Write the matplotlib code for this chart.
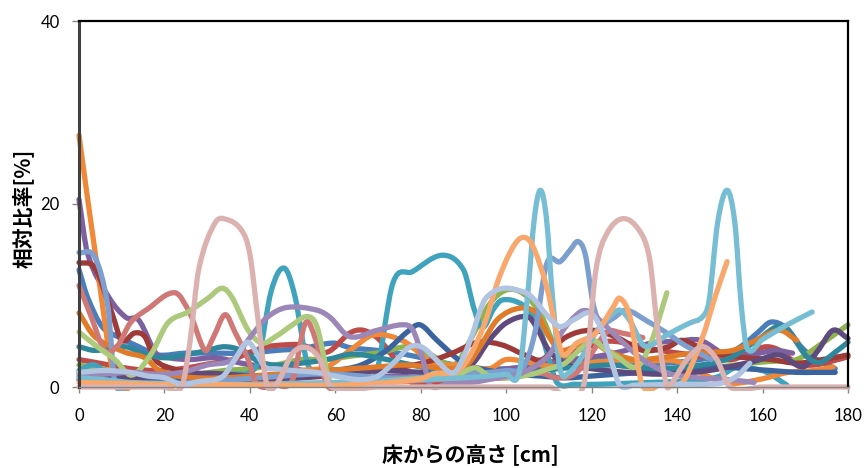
import numpy as np
import matplotlib
matplotlib.use("Agg")
import matplotlib.pyplot as plt
from matplotlib.path import Path
from matplotlib.patches import PathPatch, Rectangle

# height profiles: each series has its own sample heights (cm) and ratios (%)
blue_x = [0, 2, 5.4, 9.1, 14, 18.5, 24.8, 32.5, 39.6, 46.3, 52, 59.5, 63.4, 69.8, 76, 82, 88, 94, 100, 106,
          112, 118, 124, 130, 136, 142, 148, 152, 156, 159, 162, 165.7, 169, 172, 177]
blue_y = [12.8, 9.8, 6.6, 5.5, 4.4, 3.5, 3.7, 3.7, 3.7, 4.0, 4.2, 4.8, 4.3, 4.0, 3.6, 3.0, 2.4, 2.0, 2.0, 2.2,
          2.6, 3.0, 3.0, 2.8, 2.6, 2.8, 3.2, 3.6, 4.8, 6.0, 7.1, 6.4, 4.4, 3.2, 2.0]

red_x = [0, 6, 12, 18, 24, 30, 36, 40, 44, 48, 52, 58, 63.4, 66.5, 70, 74, 77.5, 82, 88, 94, 100, 106,
         112, 118, 124, 130, 136, 142, 148, 153, 158, 161, 164, 168, 172, 176, 180]
red_y = [3.0, 2.5, 2.0, 1.8, 2.0, 2.5, 3.0, 3.8, 4.4, 4.6, 4.6, 3.8, 5.9, 6.2, 5.3, 3.0, 0.6, 0.4, 0.5, 1.0, 1.4, 2.0,
         3.0, 4.2, 5.0, 4.6, 4.0, 3.6, 3.2, 3.0, 4.0, 4.4, 4.0, 2.6, 2.4, 2.8, 3.3]

green_x = [0, 5, 10, 16, 22, 28, 34, 40, 46, 52, 58, 64, 71, 76.8, 82, 88, 92, 96, 100, 104, 108, 112, 116,
           120, 126, 132, 138, 144, 150, 157, 162, 168, 172.8, 180]
green_y = [2.4, 2.0, 1.6, 1.2, 1.0, 1.4, 1.8, 2.0, 2.4, 3.0, 3.0, 3.4, 3.8, 4.4, 3.6, 2.5, 5.5, 9.0, 10.6, 10.2, 8.0, 4.0, 3.2,
           3.0, 2.4, 2.0, 1.8, 2.0, 2.2, 2.6, 2.8, 3.0, 4.4, 6.8]

purple_x = [0, 2, 7, 11, 14, 18, 21, 26, 32, 38, 44, 50, 56, 62, 68, 74, 80, 86, 92, 98, 104, 110, 116,
            122, 128, 134, 140, 145.4, 152, 158, 163, 167]
purple_y = [20.5, 14.6, 9.8, 7.6, 7.3, 3.7, 3.2, 3.0, 3.2, 2.6, 2.2, 2.0, 1.5, 1.2, 1.0, 1.2, 1.0, 0.8, 1.2, 1.8, 2.2, 2.5, 3.0,
            3.4, 4.0, 4.8, 5.0, 5.1, 3.4, 3.6, 4.0, 3.7]

aqua_x = [0, 3.7, 9, 14, 20, 26, 32, 36, 40, 42, 45, 48, 50.5, 53.6, 58, 62, 66, 69.5, 73.5, 78, 85, 90,
          92.5, 94.5, 97, 99, 103, 106, 108, 110, 112, 116, 122, 128, 134, 140, 146, 150, 154, 158, 161,
          165.7]
aqua_y = [1.8, 2.4, 0.4, 0.3, 0.5, 0.8, 1.0, 1.4, 1.6, 3.0, 10.5, 13.0, 10.0, 2.4, 2.0, 1.8, 1.6, 1.4, 11.4, 12.6, 14.4, 12.8,
          8.5, 6.5, 8.5, 9.5, 9.2, 8.0, 6.2, 3.0, 0.4, 0.3, 0.3, 0.4, 0.5, 0.6, 0.8, 1.2, 2.2, 2.0, 1.6,
          0.2]

orange_x = [0, 4, 8.5, 14, 22, 30, 38, 46, 52, 58, 64, 69, 76, 83, 90, 96, 100, 106, 112, 120, 127, 132,
            140, 148, 153, 160, 166, 172, 176.5]
orange_y = [27.5, 14.0, 0.6, 0.8, 1.6, 1.0, 0.7, 1.2, 1.8, 2.2, 4.2, 5.7, 5.0, 2.6, 2.4, 2.0, 3.0, 2.6, 2.2, 2.6, 3.0, 2.8,
            2.8, 1.0, 0.4, 0.9, 1.6, 1.8, 2.2]

dkblue_x = [0, 6, 12, 18, 24, 30, 36, 42, 48, 54, 60, 66, 72, 76.8, 79.8, 83.8, 90, 96, 102, 108, 114, 120,
            126, 132, 138, 144, 150, 156, 162, 168, 172, 177]
dkblue_y = [1.5, 1.2, 1.0, 0.8, 0.6, 0.6, 0.8, 1.0, 1.2, 1.4, 1.8, 2.4, 4.0, 6.0, 6.8, 5.1, 2.6, 1.8, 1.4, 1.2, 1.0, 1.2,
            1.4, 1.6, 1.8, 2.0, 2.2, 2.0, 1.8, 1.6, 1.6, 1.6]

dkred_x = [0, 3.7, 7.7, 10, 13, 15.4, 17.8, 22, 28, 34, 40, 46, 52, 58, 64, 70, 76, 82, 87.4, 93.4, 99,
           104.4, 108.4, 113.8, 120, 126, 132, 138, 141, 145, 150, 156, 162, 168, 174, 180]
dkred_y = [13.6, 13.0, 8.1, 5.1, 5.9, 5.5, 3.0, 2.0, 1.5, 1.0, 0.8, 0.8, 1.0, 1.2, 1.5, 1.8, 2.2, 2.8, 3.7, 4.9, 4.6,
           3.5, 3.0, 5.4, 6.2, 5.4, 4.0, 4.4, 5.1, 4.4, 3.6, 3.2, 3.0, 2.6, 3.0, 3.5]

dkpurple_x = [0, 10, 20, 30, 40, 50, 60, 70, 80, 86, 92, 96, 100, 105, 107, 110, 114, 120, 128, 136, 144,
              150, 158, 164, 169.5, 173, 176.5, 180]
dkpurple_y = [0.8, 1.0, 1.2, 1.5, 1.2, 1.0, 1.4, 1.8, 1.6, 1.4, 2.5, 5.1, 7.0, 7.7, 6.6, 4.0, 2.5, 2.0, 1.6, 1.4, 1.6,
              2.0, 2.8, 3.5, 2.2, 4.0, 6.2, 5.3]

dkaqua_x = [0, 3.7, 10.8, 14.8, 20, 26, 30, 34, 38, 42, 46, 52, 58, 64, 70, 76, 82, 88, 94, 100, 106, 112,
            118, 124, 130, 136, 142, 148, 153, 158.7, 164.8, 170.4, 173.5, 177, 180]
dkaqua_y = [4.4, 4.0, 4.4, 3.7, 3.2, 3.6, 4.0, 4.4, 4.0, 2.8, 2.4, 2.6, 3.0, 3.6, 3.2, 2.6, 2.0, 1.4, 1.0, 1.2, 1.6, 2.0,
            2.2, 2.4, 2.2, 2.0, 2.2, 2.6, 3.3, 5.1, 6.6, 3.3, 2.7, 3.8, 4.9]

dkorange_x = [0, 3.7, 10.8, 15.4, 18.5, 22, 28, 34, 40, 46, 52, 58, 64, 70, 76, 82, 88, 91, 94, 98, 103,
              107, 110, 113, 119.5, 123.5, 130, 136, 142, 148, 153, 158, 164, 168]
dkorange_y = [8.1, 5.5, 3.8, 3.2, 1.9, 1.3, 1.0, 1.0, 1.2, 1.4, 1.6, 1.8, 2.0, 2.2, 2.4, 2.2, 2.0, 2.5, 4.5, 7.4, 8.6,
              8.1, 5.5, 4.0, 5.1, 4.0, 3.0, 3.2, 3.6, 3.8, 4.0, 5.0, 6.2, 5.1]

ltblue_x = [0, 3.7, 6.8, 8.4, 12, 18, 24, 30, 36, 42, 48, 54, 60, 66, 72, 78, 84, 90, 96, 100, 104, 106.7,
            109.5, 112.6, 115, 116.8, 118.5, 120.3, 122, 125, 128, 133, 137.6, 142, 148]
ltblue_y = [14.7, 14.2, 8.7, 0.5, 0.4, 0.3, 0.4, 0.6, 0.8, 1.0, 1.2, 1.4, 1.4, 1.2, 1.0, 1.0, 1.2, 1.4, 1.6, 1.8, 2.2, 5.9,
            13.5, 13.7, 15.0, 15.9, 14.5, 9.2, 7.0, 7.5, 8.4, 7.2, 5.9, 4.5, 3.0]

salmon_x = [0, 3, 6, 9, 12, 16, 22.5, 26, 29.5, 31.5, 34.2, 36.5, 39.6, 41.6, 46, 50, 53, 55.5, 58, 62, 68,
            76, 84, 92, 100, 108, 112, 116, 119, 123.6, 127, 132]
salmon_y = [11.1, 7.5, 4.0, 4.5, 7.0, 8.5, 10.3, 8.0, 4.0, 5.5, 7.9, 6.0, 3.0, 0.3, 0.2, 0.8, 7.0, 5.0, 0.2, 0.3, 0.5,
            0.6, 0.8, 0.9, 1.0, 1.5, 1.0, 1.4, 3.0, 6.0, 5.9, 5.4]

ltgreen_x = [0, 4, 8.4, 12.4, 17, 20.8, 25.5, 30.2, 33.5, 35.8, 39.6, 42.8, 46, 50, 53.4, 55.7, 59, 64, 70,
             76, 82, 88, 92.7, 96, 100.4, 106, 110, 113.8, 117, 120.3, 123, 126, 130.6, 134, 137.6]
ltgreen_y = [6.0, 4.5, 3.0, 1.3, 3.7, 7.0, 8.2, 9.7, 10.8, 9.8, 6.2, 4.8, 5.5, 6.8, 7.7, 6.6, 0.2, 0.3, 0.6,
             0.8, 1.0, 1.2, 2.1, 1.2, 1.0, 1.4, 2.0, 2.6, 4.0, 5.1, 4.2, 3.3, 2.2, 5.0, 10.3]

ltpurple_x = [0, 6, 12, 18, 24, 30, 36, 40, 44, 48.7, 55.7, 58.8, 63.4, 69.8, 75.8, 78.2, 80.5, 82.2, 86,
              92, 98, 104, 110, 113.3, 117.3, 119.6, 123, 127, 132, 138, 145, 152, 158]
ltpurple_y = [1.2, 1.4, 1.6, 1.4, 1.6, 2.4, 3.0, 5.4, 7.6, 8.7, 8.4, 7.6, 5.5, 6.2, 6.8, 6.2, 3.0, 0.2, 0.3,
              0.5, 1.0, 1.6, 3.5, 6.2, 8.2, 8.2, 6.8, 5.0, 3.0, 1.5, 1.0, 0.8, 0.5]

ltaqua_x = [0, 6, 12, 20, 30, 40, 50, 60, 70, 80, 90, 96, 100, 103, 105, 106.6, 108, 109.4, 110.8, 112.6,
            114.5, 118, 121, 124, 126.6, 129, 132, 134, 138, 143, 146, 147.5, 149.5, 151.7, 153.5, 155,
            156.4, 160, 165, 171.6]
ltaqua_y = [1.0, 0.8, 0.5, 0.4, 0.3, 0.3, 0.4, 0.5, 0.6, 0.8, 1.0, 1.2, 1.4, 1.5, 10.0, 18.5, 21.5, 18.5, 10.0, 2.0,
            1.5, 3.5, 6.0, 7.6, 8.4, 7.2, 4.6, 4.6, 5.8, 7.0, 7.7, 9.5, 18.0, 21.5, 18.0, 9.0,
            4.2, 5.2, 6.6, 8.2]

ltorange_x = [0, 10, 20, 30, 40, 50, 60, 70, 80, 83.3, 88, 91, 95, 98, 101, 103.5, 106, 109.5, 112, 113.3,
              116.5, 121, 125, 126.6, 129, 131.8, 136, 140, 142, 146, 149, 151.7]
ltorange_y = [0.5, 0.4, 0.3, 0.3, 0.2, 0.2, 0.2, 0.4, 0.9, 1.5, 1.6, 3.0, 7.0, 11.5, 14.8, 16.3, 15.6, 10.9, 5.5, 3.5,
              4.8, 5.9, 8.7, 9.7, 7.6, 0.3, 0.2, 0.2, 1.0, 5.5, 10.0, 13.7]

steel_x = [0, 6, 12, 16, 20, 24, 28, 33.5, 36.5, 39.6, 43.5, 46, 50, 55.6, 60, 65.8, 70, 74, 77.5, 80.5,
           84, 86.8, 88.5, 91.5, 94.6, 97, 99.7, 102.5, 105.6, 110, 112.6, 116, 119.6, 122, 124.5, 126.6,
           130, 140, 150, 154, 157]
steel_y = [1.6, 1.8, 1.6, 1.2, 1.0, 0.3, 0.6, 1.1, 3.0, 4.9, 2.2, 2.0, 1.8, 1.6, 1.2, 0.8, 1.2, 2.8, 4.4, 4.3,
           2.8, 1.6, 1.9, 5.0, 9.2, 10.4, 10.8, 10.6, 10.0, 7.6, 6.6, 7.4, 8.1, 6.6, 3.0, 0.2,
           0.2, 0.3, 0.4, 1.2, 2.6]

pink_x = [0, 10, 20, 24, 26, 28, 31.8, 34.6, 38.1, 40, 42, 44, 46.5, 50, 53.4, 56.4, 59, 70, 80, 90, 100,
          110, 118, 121, 123.6, 127.4, 131.3, 133.6, 135.5, 137.5, 138.4, 142.3, 146, 149.3, 152.4, 160,
          170, 180]
pink_y = [0, 0, 0, 0, 5.0, 12.8, 17.9, 18.3, 17.1, 14.5, 7.0, 0.2, 0.5, 3.7, 4.3, 3.0, 0, 0, 0, 0, 0,
          0, 0, 12.8, 16.8, 18.4, 17.0, 13.9, 6.0, 0.2, 0.2, 3.0, 4.4, 3.0, 0, 0,
          0, 0]

series = [
    (blue_x, blue_y, "#4A7EBB"),
    (red_x, red_y, "#BE4B48"),
    (green_x, green_y, "#8FB34E"),
    (purple_x, purple_y, "#7D60A0"),
    (aqua_x, aqua_y, "#3FA3BD"),
    (orange_x, orange_y, "#F0883A"),
    (dkblue_x, dkblue_y, "#3A64A0"),
    (dkred_x, dkred_y, "#9E3A37"),
    (dkpurple_x, dkpurple_y, "#5E4A7C"),
    (dkaqua_x, dkaqua_y, "#2F879C"),
    (dkorange_x, dkorange_y, "#E07B2A"),
    (ltblue_x, ltblue_y, "#7C9FD0"),
    (salmon_x, salmon_y, "#CF7876"),
    (ltgreen_x, ltgreen_y, "#ADC97B"),
    (ltpurple_x, ltpurple_y, "#9C88B8"),
    (ltaqua_x, ltaqua_y, "#77BDD4"),
    (ltorange_x, ltorange_y, "#F8A86C"),
    (steel_x, steel_y, "#B1C4E1"),
    (pink_x, pink_y, "#DCB2B0"),
]


def smooth_path(xs, ys):
    # cubic Hermite through the points, written as Bezier segments
    xs = np.asarray(xs, float)
    ys = np.asarray(ys, float)
    m = np.empty(len(xs))
    m[0] = (ys[1] - ys[0]) / (xs[1] - xs[0])
    m[-1] = (ys[-1] - ys[-2]) / (xs[-1] - xs[-2])
    m[1:-1] = (ys[2:] - ys[:-2]) / (xs[2:] - xs[:-2])
    verts = [(xs[0], ys[0])]
    codes = [Path.MOVETO]
    for i in range(len(xs) - 1):
        h = xs[i + 1] - xs[i]
        verts += [(xs[i] + h / 3, ys[i] + m[i] * h / 3),
                  (xs[i + 1] - h / 3, ys[i + 1] - m[i + 1] * h / 3),
                  (xs[i + 1], ys[i + 1])]
        codes += [Path.CURVE4] * 3
    return Path(verts, codes)


plt.rcParams['font.family'] = ['Lato', 'DejaVu Sans']

fig = plt.figure(figsize=(8.64, 4.68), dpi=100)
ax = fig.add_axes([79 / 864, 1 - 387 / 468, 769 / 864, 366 / 468])
ax.set_xlim(0, 180)
ax.set_ylim(0, 40)

clip = Rectangle((-0.006, -0.012), 1.012, 1.024, transform=ax.transAxes, fill=False, visible=False)
ax.add_patch(clip)
for xs, ys, col in series:
    p = PathPatch(smooth_path(xs, ys), fill=False, edgecolor=col, lw=3.8,
                  capstyle='round', joinstyle='round', zorder=2)
    ax.add_patch(p)
    p.set_clip_path(clip)

ax.set_xticks(np.arange(0, 181, 20))
ax.set_yticks([0, 20, 40])
ax.tick_params(axis='x', direction='out', length=4, width=1, color='#868686', pad=11, labelsize=12)
ax.tick_params(axis='y', direction='out', length=5, width=1, color='#868686', pad=9, labelsize=12)

for s in ['top', 'right']:
    ax.spines[s].set_color('black')
    ax.spines[s].set_linewidth(1.6)
ax.spines['left'].set_color('#404040')
ax.spines['left'].set_linewidth(2.2)
ax.spines['bottom'].set_color('#868686')
ax.spines['bottom'].set_linewidth(1)
for s in ax.spines.values():
    s.set_zorder(3)

# axis titles placed in figure pixels
jp = ['Noto Sans CJK JP', 'DejaVu Sans']
fig.text(470 / 864, 1 - 455 / 468, '床からの高さ [cm]', family=jp, fontsize=15,
         fontweight='bold', ha='center', va='center')
fig.text(23 / 864, 1 - 208 / 468, '相対比率[%]', family=jp, fontsize=15,
         fontweight='bold', ha='center', va='center', rotation=90)

fig.savefig('out.png', dpi=100)
